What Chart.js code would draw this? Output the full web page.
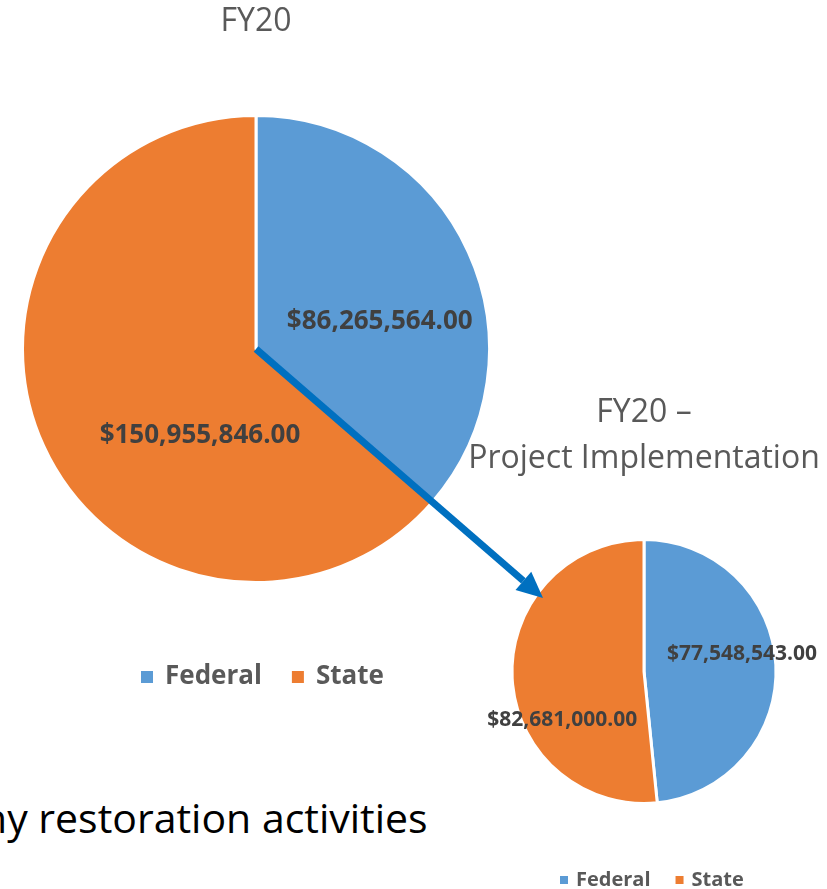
<!DOCTYPE html>
<html>
<head>
<meta charset="utf-8">
<script src="https://cdn.jsdelivr.net/npm/chart.js@4.4.0/dist/chart.umd.min.js"></script>
<style>
    html, body { margin: 0; padding: 0; background: #fff; overflow: hidden; }
    #wrap { position: relative; width: 827px; height: 889px; overflow: hidden; }
    #wrap canvas { position: absolute; left: 0; top: 0; }
    #note { position: absolute; left: -18px; top: 789px; font: 41px "Open Sans", sans-serif; color: #000; white-space: nowrap; }
</style>
</head>
<body>
<div id="wrap">
    <div id="note">ny restoration activities</div>
    <canvas id="bigPie" width="827" height="889"></canvas>
    <canvas id="smallPie" width="827" height="889"></canvas>
</div>
<script>
const categories = ["Federal", "State"];
const fy20Values = [86265564.00, 150955846.00];
const implValues = [77548543.00, 82681000.00];
const bigTitle = ["FY20"];
const smallTitle = ["FY20 \u2013", "Project Implementation"];
const colors = ["#5B9BD5", "#ED7D31"];

const FONT = '"Open Sans", sans-serif';

function money(v) {
    return "$" + v.toLocaleString("en-US", { minimumFractionDigits: 2, maximumFractionDigits: 2 });
}

// titles, value labels and legend drawn on top of each pie
const decor = {
    id: "decor",
    afterDraw(chart, args, opts) {
        const ctx = chart.ctx;
        const arc = chart.getDatasetMeta(0).data[0];
        const cx = arc.x, cy = arc.y, r = arc.outerRadius;
        ctx.save();

        // title
        ctx.fillStyle = "#595959";
        ctx.textAlign = "center";
        ctx.textBaseline = "middle";
        ctx.font = opts.title.size + "px " + FONT;
        opts.title.lines.forEach((line, i) => {
            ctx.fillText(line, opts.title.x, opts.title.y + i * opts.title.lineHeight);
        });

        // value labels
        ctx.fillStyle = "#404040";
        ctx.font = "bold " + opts.labels.size + "px " + FONT;
        const values = chart.data.datasets[0].data;
        values.forEach((v, i) => {
            const off = opts.labels.offsets[i];
            ctx.fillText(money(v), cx + off[0] * r, cy + off[1] * r);
        });

        // legend
        const lg = opts.legend;
        ctx.font = "bold " + lg.size + "px " + FONT;
        ctx.textAlign = "left";
        let x = lg.x;
        chart.data.labels.forEach((label, i) => {
            ctx.fillStyle = chart.data.datasets[0].backgroundColor[i];
            ctx.fillRect(x, lg.y - lg.box / 2, lg.box, lg.box);
            x += lg.box + lg.gap;
            ctx.fillStyle = "#595959";
            ctx.fillText(label, x, lg.y);
            x += ctx.measureText(label).width + lg.itemGap;
        });
        ctx.restore();
    }
};

function pieOptions(padding, decorOpts) {
    return {
        responsive: false,
        animation: false,
        layout: { padding: padding },
        plugins: {
            legend: { display: false },
            tooltip: { enabled: false },
            decor: decorOpts
        }
    };
}

const bigChart = new Chart(document.getElementById("bigPie"), {
    type: "pie",
    data: {
        labels: categories,
        datasets: [{ data: fy20Values, backgroundColor: colors, borderColor: "#fff", borderWidth: 3 }]
    },
    options: pieOptions(
        { left: 21, top: 114, right: 336, bottom: 305 },
        {
            title: { lines: bigTitle, x: 256, y: 22, size: 32, lineHeight: 40 },
            labels: { size: 26, offsets: [[0.53, -0.116], [-0.24, 0.369]] },
            legend: { x: 141, y: 677, size: 26, box: 12, gap: 12, itemGap: 30 }
        }
    ),
    plugins: [decor]
});

// blue arrow from the big pie's centre to the small pie
const arrow = {
    id: "arrow",
    afterDraw(chart) {
        const from = bigChart.getDatasetMeta(0).data[0];
        const to = chart.getDatasetMeta(0).data[0];
        const sx = from.x, sy = from.y;
        const tx = to.x - 0.765 * to.outerRadius, ty = to.y - 0.557 * to.outerRadius;
        const ang = Math.atan2(ty - sy, tx - sx);
        const headLen = 26, headHalf = 12;
        const bx = tx - headLen * Math.cos(ang), by = ty - headLen * Math.sin(ang);
        const ctx = chart.ctx;
        ctx.save();
        ctx.strokeStyle = "#0070C0";
        ctx.fillStyle = "#0070C0";
        ctx.lineWidth = 7;
        ctx.beginPath();
        ctx.moveTo(sx, sy);
        ctx.lineTo(bx, by);
        ctx.stroke();
        ctx.beginPath();
        ctx.moveTo(tx, ty);
        ctx.lineTo(bx + headHalf * Math.sin(ang), by - headHalf * Math.cos(ang));
        ctx.lineTo(bx - headHalf * Math.sin(ang), by + headHalf * Math.cos(ang));
        ctx.closePath();
        ctx.fill();
        ctx.restore();
    }
};

new Chart(document.getElementById("smallPie"), {
    type: "pie",
    data: {
        labels: categories,
        datasets: [{ data: implValues, backgroundColor: colors, borderColor: "#fff", borderWidth: 3 }]
    },
    options: pieOptions(
        { left: 510, top: 538, right: 49, bottom: 84 },
        {
            title: { lines: smallTitle, x: 644, y: 413, size: 32, lineHeight: 46 },
            labels: { size: 21, offsets: [[0.742, -0.136], [-0.62, 0.371]] },
            legend: { x: 560, y: 880, size: 20, box: 8, gap: 8, itemGap: 25 }
        }
    ),
    plugins: [decor, arrow]
});
</script>
</body>
</html>
